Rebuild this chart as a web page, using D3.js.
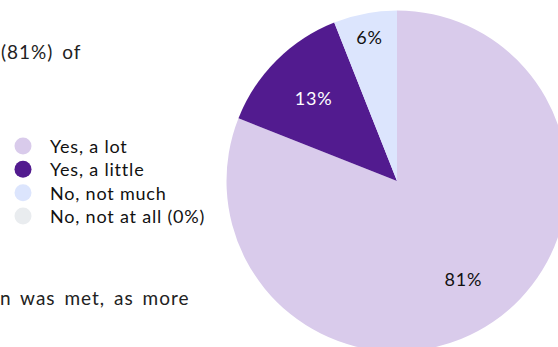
<!DOCTYPE html>
<html><head><meta charset="utf-8">
<script src="https://cdn.jsdelivr.net/npm/d3@7"></script>
<style>
html,body{margin:0;padding:0;background:#fff;}
svg{display:block;font-family:Lato,"Open Sans",sans-serif;}
</style></head><body>
<svg id="c" width="558" height="347"></svg>
<script>
const categories = ["Yes, a lot", "Yes, a little", "No, not much", "No, not at all"];
const values = [81, 13, 6, 0];
const legendLabels = ["Yes, a lot", "Yes, a little", "No, not much", "No, not at all (0%)"];
const colors = ["#d9cbeb", "#521b8f", "#dce5fd", "#e9ecef"];
const labelColors = ["#111", "#fff", "#111", "#111"];
const bodyText = ["(81%) of", "n was met, as more"];

const svg = d3.select("#c");
const cx = 397, cy = 181, R = 170.5;

const pie = d3.pie().sort(null).value(d => d)(values);
const arc = d3.arc().innerRadius(0).outerRadius(R);
const g = svg.append("g").attr("transform", `translate(${cx},${cy})`);
g.selectAll("path").data(pie).join("path")
  .attr("d", arc).attr("fill", (d,i) => colors[i]);

g.selectAll("text").data(pie.filter(d => d.value > 0)).join("text")
  .attr("transform", d => {
    const r = d.value < 10 ? 147 : 118;
    const c = d3.arc().innerRadius(r).outerRadius(r).centroid(d);
    return `translate(${c[0]},${c[1]})`;
  })
  .attr("text-anchor", "middle").attr("dominant-baseline", "central")
  .attr("font-size", 18).attr("letter-spacing", 0.8)
  .attr("fill", d => labelColors[d.index])
  .text(d => d.value + "%");

// body text fragments
svg.append("text").attr("x", 1).attr("y", 59).attr("font-size", 19)
  .attr("letter-spacing", 1).attr("word-spacing", 3).attr("fill", "#222").text(bodyText[0]);
svg.append("text").attr("x", 0).attr("y", 305).attr("font-size", 19)
  .attr("letter-spacing", 1).attr("word-spacing", 3).attr("fill", "#222").text(bodyText[1]);

// legend
const y = d3.scalePoint().domain(categories).range([146, 216]);
const lg = svg.append("g");
const row = lg.selectAll("g").data(categories).join("g")
  .attr("transform", d => `translate(0,${y(d)})`);
row.append("circle").attr("cx", 23).attr("cy", 0).attr("r", 8.5)
  .attr("fill", (d,i) => colors[i]);
row.append("text").attr("x", 50).attr("y", 0).attr("dominant-baseline", "central")
  .attr("font-size", 18).attr("letter-spacing", 0.8).attr("fill", "#111").text((d,i) => legendLabels[i]);
</script></body></html>
